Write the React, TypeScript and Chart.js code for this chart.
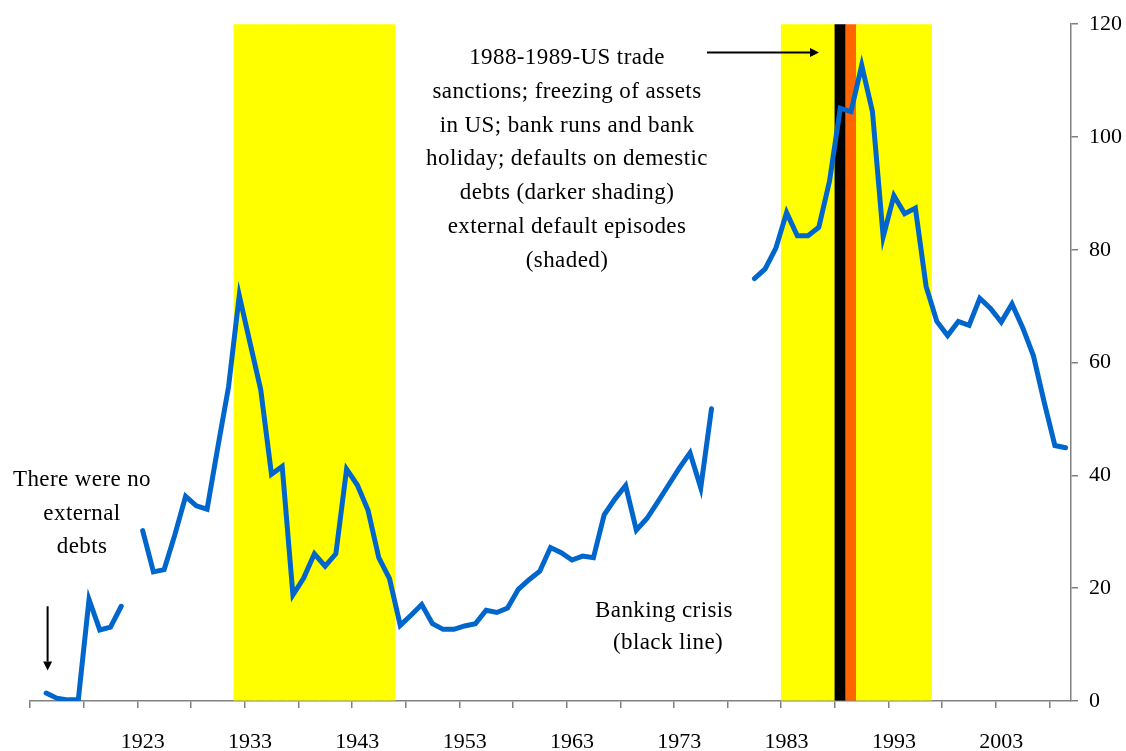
import { useEffect, useRef } from 'react';
import { Chart, registerables } from 'chart.js';

Chart.register(...registerables);

// Category axis: one category per year
const years = [
  '1913', '1914', '1915', '1916', '1917', '1918', '1919', '1920', '1921', '1922',
  '1923', '1924', '1925', '1926', '1927', '1928', '1929', '1930', '1931', '1932',
  '1933', '1934', '1935', '1936', '1937', '1938', '1939', '1940', '1941', '1942',
  '1943', '1944', '1945', '1946', '1947', '1948', '1949', '1950', '1951', '1952',
  '1953', '1954', '1955', '1956', '1957', '1958', '1959', '1960', '1961', '1962',
  '1963', '1964', '1965', '1966', '1967', '1968', '1969', '1970', '1971', '1972',
  '1973', '1974', '1975', '1976', '1977', '1978', '1979', '1980', '1981', '1982',
  '1983', '1984', '1985', '1986', '1987', '1988', '1989', '1990', '1991', '1992',
  '1993', '1994', '1995', '1996', '1997', '1998', '1999', '2000', '2001', '2002',
  '2003', '2004', '2005', '2006', '2007', '2008', '2009',
];

// Labels shown on the x axis
const xTickLabels = ['1923', '1933', '1943', '1953', '1963', '1973', '1983', '1993', '2003'];

// Debt series (null = no data)
const debtValues: (number | null)[] = [
  null, 1.4, 0.5, 0.2, 0.2, 18.0, 12.6, 13.1, 16.8, null,
  30.2, 22.9, 23.3, 29.5, 36.3, 34.6, 34.0, 45.0, 55.7, 71.9,
  63.5, 55.2, 40.2, 41.6, 18.8, 21.8, 26.1, 23.9, 26.1, 41.1,
  38.3, 33.8, 25.4, 21.7, 13.4, 15.2, 17.1, 13.7, 12.7, 12.7,
  13.3, 13.7, 16.1, 15.7, 16.5, 19.8, 21.5, 23.0, 27.2, 26.3,
  25.0, 25.7, 25.4, 33.0, 35.8, 38.2, 30.3, 32.4, 35.3, 38.3,
  41.3, 44.0, 37.8, 51.8, null, null, null, 74.9, 76.6, 80.3,
  86.6, 82.5, 82.5, 84.0, 92.2, 105.1, 104.5, 112.7, 104.5, 82.3,
  89.6, 86.4, 87.4, 73.5, 67.3, 64.8, 67.3, 66.6, 71.4, 69.6,
  67.2, 70.4, 66.2, 61.2, 53.0, 45.3, 44.9,
];

// Shaded episodes
const externalDefaultEpisodes = [
  [1932, 1946],
  [1983, 1996],
];
const bankingCrisisYears = [1988];
const domesticDefaultYears = [1989];
const shadeTop = 120;

const yMin = 0;
const yMax = 120;
const yStep = 20;

const mainNoteLines = [
  '1988-1989-US trade',
  'sanctions; freezing of assets',
  'in US; bank runs and bank',
  'holiday; defaults on demestic',
  'debts (darker shading)',
  'external default episodes',
  '(shaded)',
];
const noDebtLines = ['There were no', 'external', 'debts'];
const bankingLines = ['Banking crisis', '(black line)'];

const FONT_FAMILY = '"Liberation Serif", "Times New Roman", serif';

function buildShade() {
  const values: (number | null)[] = [];
  const colors: string[] = [];
  years.forEach((ys) => {
    const y = Number(ys);
    const inDefault = externalDefaultEpisodes.some(([a, b]) => y >= a && y <= b);
    if (bankingCrisisYears.includes(y)) {
      values.push(shadeTop);
      colors.push('#000000');
    } else if (domesticDefaultYears.includes(y)) {
      values.push(shadeTop);
      colors.push('#FF6600');
    } else if (inDefault) {
      values.push(shadeTop);
      colors.push('#FFFF00');
    } else {
      values.push(null);
      colors.push('rgba(0,0,0,0)');
    }
  });
  return { values, colors };
}

function drawArrow(ctx: CanvasRenderingContext2D, x1: number, y1: number, x2: number, y2: number) {
  const ang = Math.atan2(y2 - y1, x2 - x1);
  const head = 9;
  const half = 4.5;
  ctx.save();
  ctx.strokeStyle = '#000';
  ctx.fillStyle = '#000';
  ctx.lineWidth = 2;
  ctx.beginPath();
  ctx.moveTo(x1, y1);
  ctx.lineTo(x2 - Math.cos(ang) * head, y2 - Math.sin(ang) * head);
  ctx.stroke();
  ctx.beginPath();
  ctx.moveTo(x2, y2);
  ctx.lineTo(
    x2 - Math.cos(ang) * head - Math.sin(ang) * half,
    y2 - Math.sin(ang) * head + Math.cos(ang) * half
  );
  ctx.lineTo(
    x2 - Math.cos(ang) * head + Math.sin(ang) * half,
    y2 - Math.sin(ang) * head - Math.cos(ang) * half
  );
  ctx.closePath();
  ctx.fill();
  ctx.restore();
}

const annotationPlugin = {
  id: 'notes',
  afterDraw(chart: any) {
    const ctx: CanvasRenderingContext2D = chart.ctx;
    const x = chart.scales.x;
    const y = chart.scales.y;
    ctx.save();
    ctx.fillStyle = '#000';
    ctx.textAlign = 'center';
    ctx.textBaseline = 'middle';
    ctx.font = `23px ${FONT_FAMILY}`;
    try {
      (ctx as any).letterSpacing = '0.4px';
    } catch (e) {
      /* ignore */
    }
    mainNoteLines.forEach((t, i) => ctx.fillText(t, 567, 58 + i * 33.8));
    noDebtLines.forEach((t, i) => ctx.fillText(t, 82, 480 + i * 33.5));
    ctx.fillText(bankingLines[0], 664, 611);
    ctx.fillText(bankingLines[1], 668, 643);
    ctx.restore();

    const px1914 = x.getPixelForValue(years.indexOf('1914'));
    drawArrow(ctx, px1914 + 1.5, y.getPixelForValue(16.8), px1914 + 1.5, y.getPixelForValue(5.4));
    drawArrow(ctx, 707, y.getPixelForValue(115), 819, y.getPixelForValue(115));
  },
};

export default function App() {
  const ref = useRef<HTMLCanvasElement | null>(null);

  useEffect(() => {
    if (!ref.current) return;
    const shade = buildShade();
    const chart = new Chart(ref.current, {
      type: 'bar',
      data: {
        labels: years,
        datasets: [
          {
            type: 'line',
            label: 'Debt',
            data: debtValues,
            borderColor: '#0066CC',
            backgroundColor: '#0066CC',
            borderWidth: 5,
            pointRadius: 0,
            spanGaps: false,
            tension: 0,
            borderCapStyle: 'round',
            borderJoinStyle: 'miter',
            order: 0,
          } as any,
          {
            type: 'bar',
            label: 'Shading',
            data: shade.values,
            backgroundColor: shade.colors,
            borderWidth: 0,
            barPercentage: 1,
            categoryPercentage: 1,
            order: 1,
          } as any,
        ],
      },
      options: {
        responsive: false,
        animation: false,
        layout: { padding: { left: 30, top: 23, right: 0, bottom: 0 } },
        plugins: {
          legend: { display: false },
          tooltip: { enabled: false },
        },
        scales: {
          x: {
            type: 'category',
            offset: true,
            afterFit: (s: any) => {
              s.height = 50;
            },
            grid: {
              offset: true,
              drawOnChartArea: false,
              drawTicks: true,
              tickLength: 7,
              lineWidth: 1.5,
              color: (c: any) =>
                typeof c.index === 'number' && c.index % 5 === 0 ? '#808080' : 'rgba(0,0,0,0)',
            },
            border: { display: true, color: '#808080', width: 1.5 },
            ticks: {
              autoSkip: false,
              maxRotation: 0,
              minRotation: 0,
              padding: 21,
              color: '#000',
              font: { family: FONT_FAMILY, size: 22 },
              callback: (_v: any, i: number) => (xTickLabels.includes(years[i]) ? years[i] : ''),
            },
          },
          y: {
            position: 'right',
            min: yMin,
            max: yMax,
            afterFit: (s: any) => {
              s.width = 55;
            },
            grid: {
              drawOnChartArea: false,
              drawTicks: true,
              tickLength: 7,
              lineWidth: 1.5,
              color: '#808080',
            },
            border: { display: true, color: '#808080', width: 1.5 },
            ticks: {
              stepSize: yStep,
              padding: 11,
              color: '#000',
              font: { family: FONT_FAMILY, size: 22 },
            },
          },
        },
      },
      plugins: [annotationPlugin],
    });
    return () => chart.destroy();
  }, []);

  return (
    <div style={{ position: 'absolute', left: 0, top: 0, width: 1126, height: 751 }}>
      <canvas ref={ref} width={1126} height={751} style={{ display: 'block' }} />
    </div>
  );
}
